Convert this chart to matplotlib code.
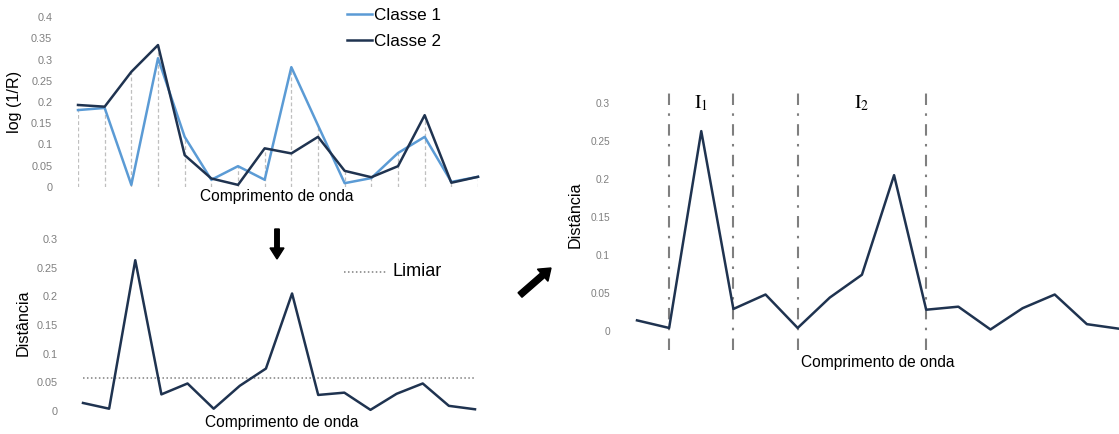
import numpy as np
import matplotlib
matplotlib.use("Agg")
import matplotlib.pyplot as plt
from matplotlib.patches import FancyArrow
from matplotlib.ticker import FuncFormatter

plt.rcParams['font.family'] = ['Liberation Sans', 'DejaVu Sans']
plt.rcParams['mathtext.fontset'] = 'stix'

W, H = 1119, 434

# pontos do espectro (comprimentos de onda, sem rotulo)
pontos = list(range(16))

# log(1/R) medio de cada classe
classe1 = [0.181, 0.186, 0.005, 0.303, 0.118, 0.017, 0.049, 0.017,
           0.282, 0.145, 0.009, 0.021, 0.080, 0.118, 0.012, 0.024]
classe2 = [0.193, 0.189, 0.271, 0.334, 0.075, 0.020, 0.005, 0.091,
           0.079, 0.118, 0.038, 0.023, 0.049, 0.169, 0.010, 0.024]

# distancia entre as classes em cada ponto
distancia = [0.014, 0.004, 0.263, 0.029, 0.048, 0.004, 0.044, 0.074,
             0.205, 0.028, 0.032, 0.002, 0.030, 0.048, 0.009, 0.003]
limiar = 0.058

# limites dos intervalos selecionados
limites = [1, 3, 5, 9]
intervalos = [(r'$\mathrm{I}_1$', 1, 3), (r'$\mathrm{I}_2$', 5, 9)]

ticks_top = [0, 0.05, 0.1, 0.15, 0.2, 0.25, 0.3, 0.35, 0.4]
ticks_dist = [0, 0.05, 0.1, 0.15, 0.2, 0.25, 0.3]

azul_claro = '#5b9bd5'
azul_escuro = '#1f3350'
cinza = '#7f7f7f'

fig = plt.figure(figsize=(W / 100, H / 100), dpi=100)


def box(x0, x1, y_top, y_bot):
    # pixel box -> figure fraction
    return [x0 / W, 1 - y_bot / H, (x1 - x0) / W, (y_bot - y_top) / H]


def clean(ax, ticks, top, pad):
    for s in ax.spines.values():
        s.set_visible(False)
    ax.set_xticks([])
    ax.set_yticks(ticks)
    ax.set_ylim(0, top)
    ax.set_xlim(0, 15)
    ax.yaxis.set_major_formatter(FuncFormatter(lambda v, p: f'{v:g}'))
    ax.tick_params(axis='y', length=0, pad=pad, labelsize=7.8, labelcolor=cinza)
    ax.patch.set_alpha(0)


# espectros das duas classes
ax1 = fig.add_axes(box(78, 478, 17, 187))
clean(ax1, ticks_top, 0.4, 18.5)
ax1.vlines(pontos, 0, np.maximum(classe1, classe2), colors='#bfbfbf',
           linestyles=(0, (3, 2)), lw=0.9, zorder=1)
ax1.plot(pontos, classe1, color=azul_claro, lw=1.8, zorder=2, clip_on=False)
ax1.plot(pontos, classe2, color=azul_escuro, lw=1.8, zorder=3, clip_on=False)

# distancia com limiar
ax2 = fig.add_axes(box(83, 475, 239, 411))
clean(ax2, ticks_dist, 0.3, 18)
ax2.axhline(limiar, xmin=0, xmax=1, color=cinza, ls=(0, (1, 1.6)), lw=1.1)
ax2.plot(pontos, distancia, color=azul_escuro, lw=1.8, clip_on=False)

# distancia com intervalos
ax3 = fig.add_axes(box(637, 1119, 103, 331))
clean(ax3, ticks_dist, 0.3, 19.5)
ax3.tick_params(axis='y', labelsize=7.3)
ax3.vlines(limites, -0.025, 0.32, colors=cinza, lw=1.5,
           linestyles=(0, (5.5, 4, 1.2, 4)), clip_on=False)
ax3.plot(pontos, distancia, color=azul_escuro, lw=1.8, clip_on=False)
for nome, a, b in intervalos:
    ax3.text((a + b) / 2, 0.3, nome, ha='center', va='center', fontsize=14)

# camada de anotacoes em pixels
ov = fig.add_axes([0, 0, 1, 1])
ov.set_xlim(0, W)
ov.set_ylim(H, 0)
ov.axis('off')
ov.patch.set_alpha(0)

# legenda
ov.plot([347, 372], [14, 14], color=azul_claro, lw=1.8)
ov.plot([347, 372], [40, 40], color=azul_escuro, lw=1.8)
ov.text(374, 15, 'Classe 1', fontsize=12.3, va='center')
ov.text(374, 41, 'Classe 2', fontsize=12.3, va='center')
ov.plot([344, 387], [272, 272], color=cinza, ls=(0, (1, 1.6)), lw=1.1)
ov.text(393, 272, 'Limiar', fontsize=13, va='center')

ov.text(15, 102, 'log (1/R)', rotation=90, fontsize=11.6, ha='center', va='center')
ov.text(277, 197, 'Comprimento de onda', fontsize=11.2, ha='center', va='center')
ov.text(23, 323, 'Distância', rotation=90, fontsize=11.6, ha='center', va='center')
ov.text(282, 422, 'Comprimento de onda', fontsize=11.2, ha='center', va='center')
ov.text(575, 215, 'Distância', rotation=90, fontsize=11.6, ha='center', va='center')
ov.text(878, 362, 'Comprimento de onda', fontsize=11.2, ha='center', va='center')

# setas
ov.add_patch(FancyArrow(277, 229, 0, 30, width=4.5, head_width=14,
                        head_length=11, length_includes_head=True,
                        color='black'))
ov.add_patch(FancyArrow(520, 295, 31, -27, width=6, head_width=16,
                        head_length=11, length_includes_head=True,
                        color='black'))

fig.savefig('out.png', dpi=100)
